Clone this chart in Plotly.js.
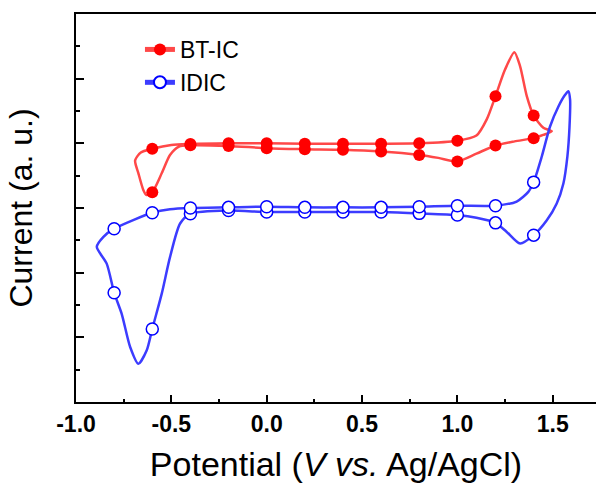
<!DOCTYPE html>
<html>
<head>
<meta charset="utf-8">
<script src="https://cdn.plot.ly/plotly-3.0.1.min.js"></script>
<style>html,body{margin:0;padding:0;background:#fff;}#chart{width:596px;height:484px;}</style>
</head>
<body>
<div id="chart"></div>
<script>
// BT-IC cyclic voltammogram (closed loop: return scan then forward scan)
const btic_x = [1.495, 1.45, 1.4, 1.3, 1.2, 1.1, 1.0, 0.9, 0.8, 0.6, 0.4, 0.2, 0.0, -0.2, -0.4, -0.46, -0.507, -0.55, -0.6, -0.63, -0.647, -0.673, -0.69,
                -0.66, -0.6, -0.5, -0.4, -0.2, 0.0, 0.2, 0.4, 0.6, 0.8, 1.0, 1.1, 1.154, 1.2, 1.25, 1.299, 1.329, 1.364, 1.4, 1.451, 1.495];
const btic_y = [1.185, 1.13, 1.08, 1.03, 0.967, 0.84, 0.72, 0.775, 0.82, 0.873, 0.90, 0.91, 0.925, 0.96, 0.97, 0.95, 0.82, 0.54, 0.244, 0.20, 0.28, 0.54, 0.735,
                0.86, 0.916, 0.975, 0.99, 1.0, 1.0, 0.995, 0.995, 0.995, 1.0, 1.04, 1.12, 1.37, 1.73, 2.14, 2.41, 2.19, 1.73, 1.43, 1.24, 1.185];

// IDIC cyclic voltammogram
const idic_x = [1.582, 1.591, 1.588, 1.577, 1.556, 1.521, 1.469, 1.4, 1.329, 1.259, 1.2, 1.1, 1.0, 0.8, 0.6, 0.4, 0.2, 0.0, -0.2, -0.4, -0.454, -0.507, -0.55, -0.6, -0.629, -0.673, -0.716, -0.76, -0.8, -0.839, -0.891,
                -0.856, -0.8, -0.7, -0.6, -0.507, -0.4, -0.2, 0.0, 0.2, 0.4, 0.6, 0.8, 1.0, 1.2, 1.311, 1.372, 1.4, 1.443, 1.486, 1.53, 1.565, 1.582];
const idic_y = [1.806, 1.68, 1.25, 0.80, 0.38, 0.07, -0.19, -0.42, -0.55, -0.37, -0.23, -0.15, -0.109, -0.083, -0.062, -0.062, -0.062, -0.062, -0.04, -0.09, -0.24, -0.76, -1.32, -1.87, -2.20, -2.41, -2.15, -1.64, -1.31, -0.86, -0.60,
                -0.445, -0.32, -0.186, -0.073, -0.02, 0.0, 0.01, 0.02, 0.01, 0.01, 0.01, 0.02, 0.036, 0.036, 0.10, 0.25, 0.40, 0.80, 1.26, 1.57, 1.75, 1.806];

const seriesNames = ['BT-IC', 'IDIC'];
const xTickVals = [-1.0, -0.5, 0.0, 0.5, 1.0, 1.5];
const xTickText = ['-1.0', '-0.5', '0.0', '0.5', '1.0', '1.5'];

// markers are drawn on the points sampled every 0.2 V
function markerSizes(xs, size) {
  return xs.map(v => Math.abs(v * 5 - Math.round(v * 5)) < 1e-6 ? size : 0);
}

const FONT = 'Liberation Sans, Arial, Helvetica, sans-serif';

const traces = [
  {
    x: btic_x, y: btic_y, name: seriesNames[0], type: 'scatter', mode: 'lines+markers',
    line: {color: 'rgb(255,72,72)', width: 2.5, shape: 'spline', smoothing: 0.7},
    marker: {symbol: 'circle', color: '#ff0000', opacity: 1, size: markerSizes(btic_x, 12), line: {width: 0}}
  },
  {
    x: idic_x, y: idic_y, name: seriesNames[1], type: 'scatter', mode: 'lines+markers',
    line: {color: 'rgb(60,60,255)', width: 2.5, shape: 'spline', smoothing: 0.7},
    marker: {symbol: 'circle', color: '#ffffff', opacity: 1, size: markerSizes(idic_x, 12), line: {color: '#0000ff', width: 1.5}}
  }
];

const layout = {
  width: 596, height: 484,
  margin: {l: 76, r: 0, t: 14, b: 82},
  paper_bgcolor: '#ffffff', plot_bgcolor: '#ffffff',
  showlegend: true,
  legend: {
    x: 0.123, y: 0.964, xanchor: 'left', yanchor: 'top',
    bgcolor: 'rgba(0,0,0,0)', borderwidth: 0,
    font: {family: FONT, size: 23, color: '#000'},
    itemsizing: 'constant', tracegroupgap: 0
  },
  xaxis: {
    range: [-1.0, 1.727],
    tickvals: xTickVals, ticktext: xTickText,
    ticks: 'inside', ticklen: 7, tickwidth: 2, tickcolor: '#000',
    minor: {dtick: 0.25, tick0: -1, ticks: 'inside', ticklen: 3.5, tickwidth: 2, tickcolor: '#000', showgrid: false},
    showline: true, linewidth: 2, linecolor: '#000', mirror: true,
    showgrid: false, zeroline: false,
    tickfont: {family: FONT, size: 23, color: '#000', weight: 'bold'},
    title: {text: 'Potential (<i>V</i> <i>vs.</i> Ag/AgCl)', font: {family: FONT, size: 34, color: '#000'}, standoff: 17}
  },
  yaxis: {
    range: [-3, 3],
    dtick: 1, tick0: 0,
    ticks: 'inside', ticklen: 8, tickwidth: 2, tickcolor: '#000',
    minor: {dtick: 0.5, ticks: 'inside', ticklen: 4, tickwidth: 2, tickcolor: '#000', showgrid: false},
    showticklabels: false,
    showline: true, linewidth: 2, linecolor: '#000', mirror: false,
    showgrid: false, zeroline: false,
    title: {text: 'Current (a. u.)', font: {family: FONT, size: 32, color: '#000'}, standoff: 32}
  }
};

Plotly.newPlot('chart', traces, layout, {displayModeBar: false, staticPlot: true});
</script>
</body>
</html>
